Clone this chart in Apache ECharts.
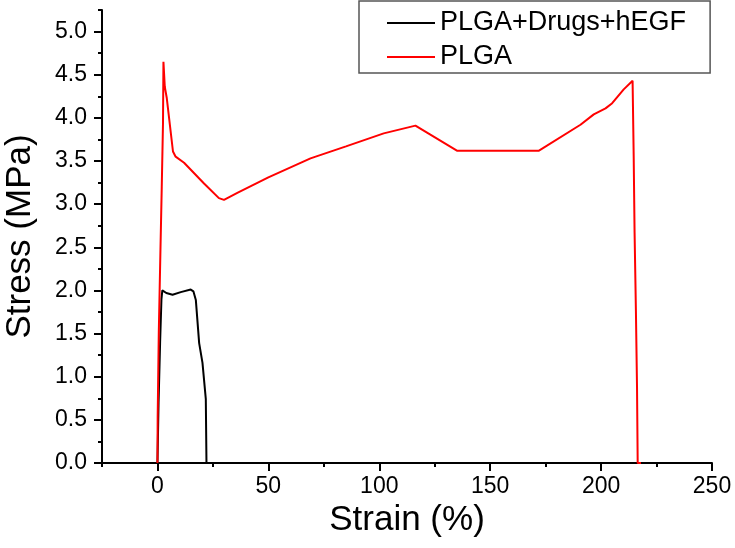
<!DOCTYPE html>
<html>
<head>
<meta charset="utf-8">
<script src="https://cdn.jsdelivr.net/npm/echarts@6/dist/echarts.min.js"></script>
<style>
html,body{margin:0;padding:0;background:#fff;}
#chart{width:735px;height:548px;}
</style>
</head>
<body>
<div id="chart"></div>
<script>
// ---- data ----
var seriesNames = ['PLGA+Drugs+hEGF', 'PLGA'];
var drugStrain = [0, 0.5, 1.2, 1.8, 2.2, 4.0, 6.8, 10.5, 15.0, 16.2, 17.3, 18.8, 20.3, 21.8, 22.1];
var drugStress = [0, 0.7, 1.4, 1.9, 2.0, 1.97, 1.95, 1.98, 2.01, 1.99, 1.89, 1.39, 1.16, 0.74, 0];
var plgaStrain = [0, 0.1, 0.6, 1.35, 1.94, 2.5, 2.7, 3.3, 4.2, 7.0, 8.2, 12.0, 21.0, 27.7, 30.0, 36.0, 50.0, 69.0, 85.0, 102.0, 116.3, 135.0, 172.0, 190.7, 196.7, 202.0, 205.0, 210.2, 214.2, 214.7, 215.1, 215.7, 216.2, 216.5, 218.0];
var plgaStress = [0, 0.54, 1.51, 2.47, 3.2, 3.94, 4.65, 4.36, 4.23, 3.61, 3.55, 3.48, 3.24, 3.07, 3.05, 3.13, 3.31, 3.53, 3.67, 3.82, 3.91, 3.62, 3.62, 3.92, 4.04, 4.11, 4.17, 4.33, 4.43, 3.55, 2.67, 1.76, 0.87, 0, 0];
var xMajorTicks = [0, 50, 100, 150, 200, 250];
var xMinorTicks = [-25, 25, 75, 125, 175, 225];
var yMajorTicks = [0, 0.5, 1.0, 1.5, 2.0, 2.5, 3.0, 3.5, 4.0, 4.5, 5.0];
var yMinorTicks = [0.25, 0.75, 1.25, 1.75, 2.25, 2.75, 3.25, 3.75, 4.25, 4.75, 5.25];
var xTitle = 'Strain (%)';
var yTitle = 'Stress (MPa)';

function pairs(xs, ys) { return xs.map(function (x, i) { return [x, ys[i]]; }); }

var FONT = '"Liberation Sans", Arial, sans-serif';
var chart = echarts.init(document.getElementById('chart'), null, { renderer: 'canvas' });

var option = {
  backgroundColor: '#fff',
  animation: false,
  grid: { left: 102, right: 23, top: 10, bottom: 85, containLabel: false, outerBoundsMode: 'none' },
  legend: {
    orient: 'vertical',
    left: 359, top: 1,
    data: seriesNames,
    icon: 'rect',
    itemWidth: 48, itemHeight: 2,
    itemGap: 4,
    padding: [7, 24, 1, 28],
    borderColor: '#555', borderWidth: 1.5,
    textStyle: { fontFamily: FONT, fontSize: 27, color: '#000', lineHeight: 30 }
  },
  xAxis: [{
    type: 'value', min: -25, max: 250, position: 'bottom',
    name: xTitle, nameLocation: 'middle', nameGap: 29,
    nameTextStyle: { fontFamily: FONT, fontSize: 35, color: '#000' },
    axisLine: { show: true, onZero: false, lineStyle: { color: '#000', width: 2 } },
    axisTick: { show: true, inside: false, length: 8, lineStyle: { color: '#000', width: 2 }, customValues: xMajorTicks },
    axisLabel: { show: true, margin: 12, fontFamily: FONT, fontSize: 23, color: '#000', customValues: xMajorTicks },
    splitLine: { show: false }
  }, {
    type: 'value', min: -25, max: 250, position: 'bottom',
    axisLine: { show: false, onZero: false },
    axisTick: { show: true, inside: false, length: 4, lineStyle: { color: '#000', width: 2 }, customValues: xMinorTicks },
    axisLabel: { show: false },
    splitLine: { show: false }
  }],
  yAxis: [{
    type: 'value', min: 0, max: 5.25, position: 'left',
    name: yTitle, nameLocation: 'middle', nameGap: 64,
    nameTextStyle: { fontFamily: FONT, fontSize: 35, color: '#000' },
    axisLine: { show: true, onZero: false, lineStyle: { color: '#000', width: 2 } },
    axisTick: { show: true, inside: false, length: 8, lineStyle: { color: '#000', width: 2 }, customValues: yMajorTicks },
    axisLabel: { show: true, margin: 15, fontFamily: FONT, fontSize: 23, color: '#000', customValues: yMajorTicks,
      formatter: function (v) { return v.toFixed(1); } },
    splitLine: { show: false }
  }, {
    type: 'value', min: 0, max: 5.25, position: 'left',
    axisLine: { show: false, onZero: false },
    axisTick: { show: true, inside: false, length: 4, lineStyle: { color: '#000', width: 2 }, customValues: yMinorTicks },
    axisLabel: { show: false },
    splitLine: { show: false }
  }],
  series: [{
    name: seriesNames[0], type: 'line', xAxisIndex: 0, yAxisIndex: 0,
    data: pairs(drugStrain, drugStress),
    symbol: 'none', showSymbol: false,
    lineStyle: { color: '#000', width: 2 }, itemStyle: { color: '#000' }, z: 2
  }, {
    name: seriesNames[1], type: 'line', xAxisIndex: 0, yAxisIndex: 0,
    data: pairs(plgaStrain, plgaStress),
    symbol: 'none', showSymbol: false,
    lineStyle: { color: '#ff0000', width: 2 }, itemStyle: { color: '#ff0000' }, z: 3
  }]
};
chart.setOption(option);
</script>
</body>
</html>
